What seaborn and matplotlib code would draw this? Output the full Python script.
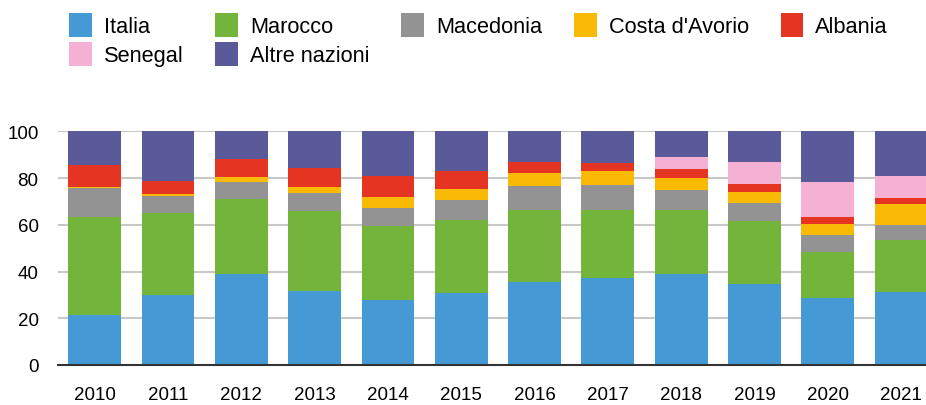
import matplotlib
matplotlib.use("Agg")
import numpy as np
import pandas as pd
import matplotlib.pyplot as plt
import seaborn as sns
from matplotlib.patches import Patch

# data (percent of total, per year)
years = ["2010", "2011", "2012", "2013", "2014", "2015",
         "2016", "2017", "2018", "2019", "2020", "2021"]
italia = [21.5, 30.1, 38.9, 31.8, 27.8, 30.9, 35.5, 37.2, 38.9, 34.6, 28.6, 31.2]
marocco = [41.9, 35.0, 32.2, 34.1, 31.6, 31.1, 30.7, 29.0, 27.3, 27.1, 19.7, 22.2]
macedonia = [12.2, 7.1, 7.1, 7.7, 7.7, 8.5, 10.3, 10.9, 8.6, 7.7, 7.4, 6.6]
costa = [0.6, 0.9, 2.3, 2.6, 4.8, 4.8, 5.7, 5.9, 5.1, 4.5, 4.6, 8.8]
albania = [9.4, 5.7, 7.7, 8.0, 8.9, 7.7, 4.6, 3.5, 4.0, 3.5, 3.1, 2.6]
senegal = [0, 0, 0, 0, 0, 0, 0, 0, 5.1, 9.4, 14.8, 9.4]
altre = [14.4, 21.2, 11.8, 15.8, 19.2, 17.0, 13.2, 13.5, 11.0, 13.2, 21.8, 19.2]

series = ["Italia", "Marocco", "Macedonia", "Costa d'Avorio", "Albania", "Senegal", "Altre nazioni"]
colors = ["#4599d4", "#72b53a", "#939393", "#f9ba05", "#e53422", "#f5b1d3", "#5a5999"]

df = pd.DataFrame({"year": years, "Italia": italia, "Marocco": marocco,
                   "Macedonia": macedonia, "Costa d'Avorio": costa,
                   "Albania": albania, "Senegal": senegal, "Altre nazioni": altre})
cum = df[series].cumsum(axis=1)

sns.set_style("white")
plt.rcParams["font.family"] = ["Liberation Sans", "DejaVu Sans"]

fig = plt.figure(figsize=(9.26, 4.06), dpi=100)
ax = fig.add_axes([58 / 926, 40 / 406, 1 - 58 / 926, 233.7 / 406])

# stacked bars: draw cumulative totals from the top layer down
for name, col in zip(series[::-1], colors[::-1]):
    sns.barplot(x=df["year"], y=cum[name], order=years, color=col,
                width=0.72, saturation=1, linewidth=0, edgecolor="none",
                ax=ax, zorder=2)

ax.set_ylim(0, 100)
ax.set_xlim(-0.5, 11.34)
ax.set_yticks([0, 20, 40, 60, 80, 100])
ax.yaxis.grid(True, color="#c8c8c8", linewidth=1.5, zorder=0)
ax.set_axisbelow(True)
for s in ["top", "right", "left"]:
    ax.spines[s].set_visible(False)
ax.spines["bottom"].set_color("#333333")
ax.spines["bottom"].set_linewidth(1.5)
ax.spines["bottom"].set_zorder(3)
ax.tick_params(axis="both", length=0, labelsize=13.5, colors="#000000")
ax.tick_params(axis="y", pad=14)
ax.tick_params(axis="x", pad=15)
ax.set_xlabel("")
ax.set_ylabel("")

# legend: column-major order so Senegal/Altre sit under Italia/Marocco
order = ["Italia", "Senegal", "Marocco", "Altre nazioni", "Macedonia", "Costa d'Avorio", "Albania"]
cmap = dict(zip(series, colors))
handles = [Patch(facecolor=cmap[n], edgecolor="none", label=n) for n in order]
fig.legend(handles=handles, loc="upper left", bbox_to_anchor=(69 / 926, 1 - 14 / 406),
           ncol=5, frameon=False, fontsize=15.7, handlelength=1.05, handleheight=1.3,
           handletextpad=0.55, columnspacing=1.45, labelspacing=0.22,
           borderpad=0, borderaxespad=0, labelcolor="#000000")

fig.savefig("out.png", dpi=100)
